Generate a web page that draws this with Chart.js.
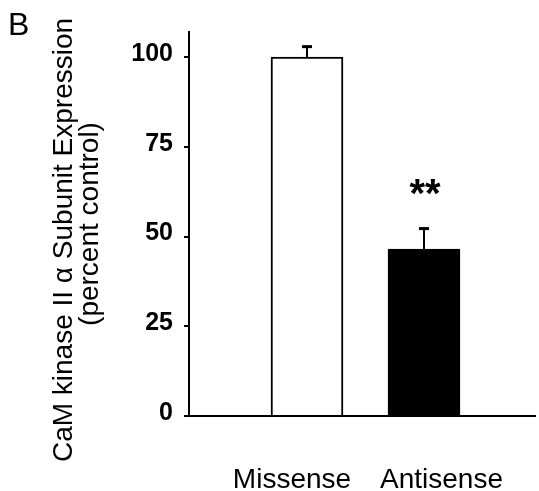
<!DOCTYPE html>
<html><head><meta charset="utf-8">
<script src="https://cdn.jsdelivr.net/npm/chart.js@4"></script>
<style>html,body{margin:0;padding:0;background:#fff}canvas{display:block}</style>
</head><body>
<canvas id="c" width="539" height="491"></canvas>
<script>
// ---- data ----
const categories = ['Missense', 'Antisense'];
const expression = [100, 46.5];
const errorUpper = [3.2, 6];
const significance = ['', '**'];
const yTickValues = [0, 25, 50, 75, 100];
const yAxisTitle = ['CaM kinase II \u03b1 Subunit Expression', '(percent control)'];
const panelLabel = 'B';

const FONT = '"Liberation Sans", Arial, Helvetica, sans-serif';
const Y_MAX = 107;

const annotate = {
  id: 'annotate',
  afterDatasetsDraw(chart) {
    const ctx = chart.ctx;
    const ys = chart.scales.y;
    const meta = chart.getDatasetMeta(0);
    ctx.save();
    ctx.strokeStyle = '#000';
    ctx.fillStyle = '#000';
    meta.data.forEach((bar, i) => {
      const top = ys.getPixelForValue(expression[i] + errorUpper[i]);
      ctx.lineWidth = 2;
      ctx.beginPath();
      ctx.moveTo(bar.x, bar.y);
      ctx.lineTo(bar.x, top);
      ctx.stroke();
      ctx.lineWidth = 3;
      ctx.beginPath();
      ctx.moveTo(bar.x - 5, top + 1);
      ctx.lineTo(bar.x + 5, top + 1);
      ctx.stroke();
      if (significance[i]) {
        ctx.font = 'bold 40px ' + FONT;
        ctx.textAlign = 'center';
        ctx.textBaseline = 'alphabetic';
        ctx.fillText(significance[i], bar.x + 1, top - 21);
      }
    });
    ctx.restore();
  },
  afterDraw(chart) {
    const ctx = chart.ctx;
    ctx.save();
    ctx.fillStyle = '#000';
    ctx.font = '32px ' + FONT;
    ctx.textAlign = 'left';
    ctx.textBaseline = 'alphabetic';
    ctx.fillText(panelLabel, 8, 35);
    ctx.font = '28px ' + FONT;
    ctx.textAlign = 'center';
    const lines = [{x: 72, y: 240}, {x: 98, y: 224}];
    yAxisTitle.forEach((t, i) => {
      ctx.save();
      ctx.translate(lines[i].x, lines[i].y);
      ctx.rotate(-Math.PI / 2);
      ctx.fillText(t, 0, 0);
      ctx.restore();
    });
    ctx.restore();
  }
};

function noPad(s) { s.paddingLeft = 0; s.paddingRight = 0; s.paddingTop = 0; s.paddingBottom = 0; }

new Chart(document.getElementById('c'), {
  type: 'bar',
  data: {
    datasets: [{
      data: categories.map((c, i) => ({x: i, y: expression[i]})),
      backgroundColor: ['#ffffff', '#000000'],
      borderColor: '#000000',
      borderWidth: 2,
      barThickness: 72,
      xAxisID: 'x',
      yAxisID: 'y'
    }]
  },
  options: {
    responsive: false,
    animation: false,
    devicePixelRatio: 1,
    layout: {padding: {top: 32, right: 4, bottom: 0, left: 0}},
    plugins: {legend: {display: false}, tooltip: {enabled: false}},
    scales: {
      x: {
        type: 'linear', position: 'bottom', min: -1.0085, max: 1.9487,
        offset: false, weight: 0,
        grid: {display: false, offset: false},
        border: {display: true, color: '#000', width: 2},
        ticks: {display: false},
        afterFit(s) { s.height = 0; noPad(s); }
      },
      xl: {
        type: 'linear', position: 'bottom', axis: 'x', min: -0.689, max: 1.6254,
        offset: false, weight: 1,
        grid: {display: false},
        border: {display: false},
        ticks: {
          autoSkip: false, maxRotation: 0, minRotation: 0, padding: 39,
          color: '#000', font: {family: FONT, size: 28},
          callback: (v) => (categories[v] !== undefined ? categories[v] : '')
        },
        afterBuildTicks(s) { s.ticks = categories.map((c, i) => ({value: i})); },
        afterFit(s) { s.height = 75; noPad(s); }
      },
      y: {
        type: 'linear', min: 0, max: Y_MAX,
        grid: {display: true, drawOnChartArea: false, drawTicks: true, tickLength: 5, color: '#000', lineWidth: 2},
        border: {display: true, color: '#000', width: 2},
        ticks: {
          padding: 11, labelOffset: -3, color: '#000',
          font: {family: FONT, size: 25, weight: 'bold'}
        },
        afterBuildTicks(s) { s.ticks = yTickValues.map(v => ({value: v})); },
        afterFit(s) { s.width = 189; noPad(s); }
      }
    }
  },
  plugins: [annotate]
});
</script>
</body></html>
